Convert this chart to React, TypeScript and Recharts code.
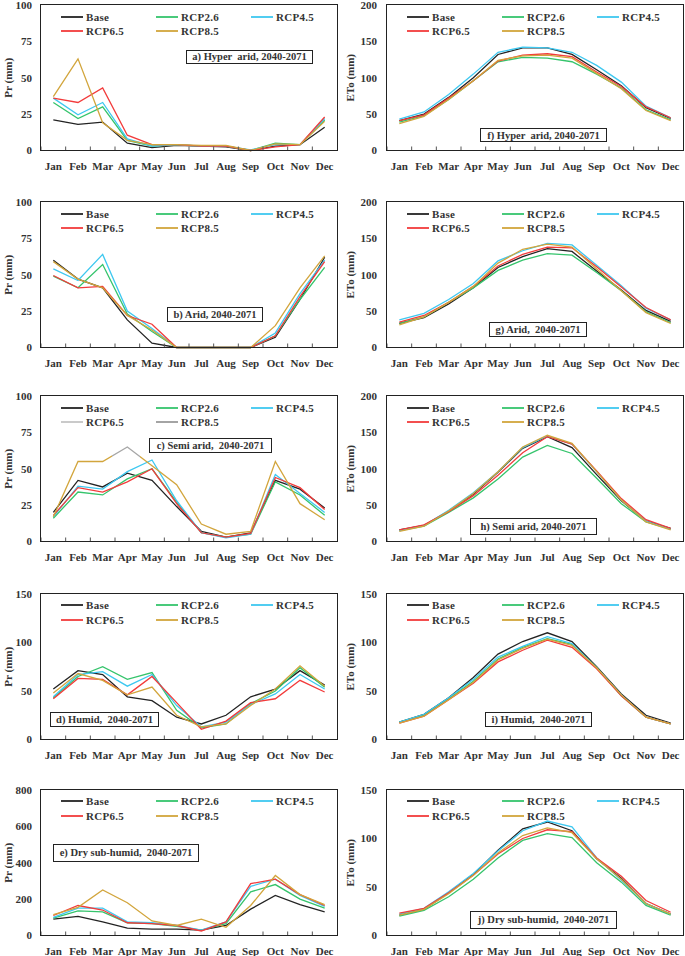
import React from "react";
import { Legend, Line, LineChart, XAxis, YAxis } from "recharts";

const months = ["Jan", "Feb", "Mar", "Apr", "May", "Jun", "Jul", "Aug", "Sep", "Oct", "Nov", "Dec"];
const seriesKeys = ["base", "rcp26", "rcp45", "rcp65", "rcp85"];
const seriesNames = ["Base", "RCP2.6", "RCP4.5", "RCP6.5", "RCP8.5"];
const seriesColors = ["#232323", "#35c46c", "#3ec8f0", "#f23b3b", "#d2a53c"];
const semiAridLegendColors = ["#232323", "#35c46c", "#3ec8f0", "#c4c4c4", "#9a9a9a"];

// rows: Base, RCP2.6, RCP4.5, RCP6.5, RCP8.5
const prHyperArid = [
  [21, 18, 19.5, 5, 2, 3.5, 3, 2.5, 0, 3, 4, 16],
  [33, 22, 30, 7, 3, 4, 3, 3, 0, 5, 4, 21],
  [36, 24.5, 33, 8, 3, 4, 3, 3, 0.5, 4, 4, 22],
  [36, 33, 43, 10.5, 4, 4, 3, 3, 0, 2.5, 4, 23],
  [37, 63, 19, 7, 4, 4, 3.5, 3.5, 0, 4.5, 4, 20],
];
const etoHyperArid = [
  [41, 50, 73, 100, 132, 141, 141, 132, 111, 89, 59, 44],
  [39, 48, 70, 96, 122, 128, 127, 122, 105, 86, 56, 42],
  [43, 53, 77, 105, 135, 142, 141, 135, 117, 94, 61, 45],
  [41, 49, 72, 96, 123, 131, 133, 129, 108, 88, 60, 45],
  [37, 47, 70, 96, 124, 130, 131, 127, 106, 85, 55, 41],
];
const prArid = [
  [60, 47, 41, 19, 3, 0, 0, 0, 0, 7, 33, 62],
  [49, 41, 57, 23, 11, 0, 0, 0, 0, 8, 33, 55],
  [54, 46, 64, 25, 13, 0, 0, 0, 0, 10, 37, 60],
  [49.5, 41, 42, 22, 16, 0, 0, 0, 0, 8, 35, 59],
  [59, 47, 41, 22, 12, 0, 0, 0, 0, 15, 41, 63],
];
const etoArid = [
  [33, 41, 60, 82, 110, 125, 136, 132, 105, 79, 51, 36],
  [33, 42, 62, 82, 106, 120, 129, 127, 103, 78, 49, 34],
  [38, 47, 66, 88, 119, 133, 143, 141, 113, 85, 54, 38],
  [35, 44, 62, 84, 112, 128, 138, 137, 111, 83, 55, 38],
  [31, 42, 62, 84, 116, 135, 142, 138, 108, 78, 48, 33],
];
const prSemiArid = [
  [20, 42, 37.5, 47, 42, 24, 7, 3, 6, 42, 36, 23],
  [16, 34, 32, 43, 50, 27, 6, 3, 5, 41, 32, 18],
  [17, 38, 36, 48, 56, 28, 6, 2.5, 5, 46, 33, 20],
  [18, 37, 34, 41, 50, 26, 6, 3, 5.5, 44, 37, 22],
  [17, 55, 55, 65, 52, 39, 12, 5, 7, 55, 26, 15],
];
const etoSemiArid = [
  [16, 22, 42, 65, 95, 128, 144, 129, 92, 56, 28, 18],
  [15, 21, 40, 60, 86, 116, 132, 121, 87, 52, 27, 17],
  [15, 22, 43, 67, 96, 129, 145, 134, 96, 57, 28, 17],
  [16, 23, 41, 63, 91, 122, 144, 134, 97, 59, 30, 18],
  [14, 21, 42, 66, 96, 130, 146, 135, 96, 57, 27, 16],
];
const prHumid = [
  [52, 71, 67, 44, 40, 23, 16, 25, 44, 52, 71, 56],
  [43, 65, 75, 62, 69, 30, 12, 16, 37, 50, 74, 54],
  [44, 67, 70, 55, 67, 35, 13, 18, 36, 47, 67, 52],
  [42, 63, 62, 46, 65, 38, 10.5, 19, 38, 42, 61, 49],
  [48, 68, 61, 46, 54, 25, 13, 16, 35, 52, 76, 55],
];
const etoHumid = [
  [18, 26, 43, 64, 88, 101, 110, 101, 75, 47, 25, 17],
  [18, 25, 42, 60, 83, 95, 104, 98, 74, 45, 23, 16],
  [18, 26, 43, 62, 85, 96, 106, 99, 74, 46, 23, 16],
  [17, 24, 41, 58, 80, 92, 102.5, 95, 73, 45, 23, 16],
  [17, 24, 41, 59, 82, 94, 103.5, 97, 74, 46, 23, 16],
];
const prDrySubHumid = [
  [90, 105, 75, 40, 35, 35, 30, 55, 145, 220, 170, 130],
  [95, 135, 130, 70, 65, 50, 30, 65, 240, 280, 200, 150],
  [100, 150, 150, 75, 70, 55, 30, 75, 270, 310, 220, 160],
  [110, 165, 140, 70, 65, 55, 25, 75, 285, 310, 225, 165],
  [115, 155, 250, 180, 80, 55, 90, 45, 165, 330, 225, 170],
];
const etoDrySubHumid = [
  [21, 27, 44, 63, 88, 110, 117, 108, 79, 59, 33, 22],
  [20, 26, 40, 58, 80, 98, 105, 101, 75, 55, 31, 21],
  [22, 28, 45, 64, 87, 108, 118, 112, 80, 57, 33, 22],
  [23, 28, 44, 62, 84, 100, 109, 107, 80, 61, 36, 24],
  [21, 27, 43, 62, 85, 103, 111, 106, 79, 58, 33, 22],
];

const ticks100 = [0, 25, 50, 75, 100];
const ticks150 = [0, 50, 100, 150];
const ticks200 = [0, 50, 100, 150, 200];
const ticks800 = [0, 200, 400, 600, 800];

const FONT = '"Liberation Serif", "Times New Roman", serif';
const rowTops = [5, 202, 396, 593.5, 789.5];
const PLOT_H = 145.5;
const MT = 5;
const XH = 30;

const toRows = (vals: number[][]) =>
  months.map((m, i) => {
    const row: any = { m };
    seriesKeys.forEach((k, s) => (row[k] = vals[s][i]));
    return row;
  });

const MonthTick = (props: any) => {
  const { x, payload, bottom, band } = props;
  return (
    <g>
      <line x1={x - band / 2} x2={x - band / 2} y1={bottom} y2={bottom - 4} stroke="#555" strokeWidth={1} />
      <text x={x} y={bottom + 19} textAnchor="middle" fontFamily={FONT} fontSize={11} fontWeight="bold" fill="#333">
        {payload.value}
      </text>
    </g>
  );
};

const legendContent = (colors: string[]) => () => (
  <div style={{ display: "grid", gridTemplateColumns: "95px 95px 95px", fontFamily: FONT, fontSize: 11, fontWeight: "bold", color: "#333" }}>
    {seriesNames.map((name, i) => (
      <div key={name} style={{ display: "flex", alignItems: "center", height: 14.5, letterSpacing: 0.3 }}>
        <svg width={25} height={6} style={{ display: "block" }}>
          <line x1={0} x2={22} y1={3} y2={3} stroke={colors[i]} strokeWidth={1.8} />
        </svg>
        <span>{name}</span>
      </div>
    ))}
  </div>
);

type PanelProps = {
  values: number[][];
  side: "left" | "right";
  row: number;
  yMax: number;
  ticks: number[];
  yLabel: string;
  title: string;
  box: { x: number; y: number; w: number; h: number };
  legendColors?: string[];
  gradient?: boolean;
};

function Panel({ values, side, row, yMax, ticks, yLabel, title, box, legendColors, gradient }: PanelProps) {
  const left = side === "left" ? 0 : 340;
  const width = side === "left" ? 340 : 345;
  const yw = side === "left" ? 41 : 47;
  const mr = side === "left" ? 3 : 2;
  const plotW = width - yw - mr;
  const band = plotW / 12;
  const bottom = MT + PLOT_H;
  const height = MT + PLOT_H + XH;
  const data = toRows(values);
  const gid = `g-${side}-${row}`;
  return (
    <div style={{ position: "absolute", left, top: rowTops[row] - MT, width, height }}>
      <LineChart width={width} height={height} data={data} margin={{ top: MT, right: mr, left: 0, bottom: 0 }}>
        {gradient && (
          <defs>
            <linearGradient id={gid} x1="0" y1="0" x2="1" y2="0">
              <stop offset="0" stopColor={seriesColors[4]} />
              <stop offset="0.218" stopColor={seriesColors[4]} />
              <stop offset="0.218" stopColor="#a6a6a6" />
              <stop offset="0.318" stopColor="#a6a6a6" />
              <stop offset="0.318" stopColor={seriesColors[4]} />
              <stop offset="1" stopColor={seriesColors[4]} />
            </linearGradient>
          </defs>
        )}
        <XAxis
          dataKey="m"
          height={XH}
          interval={0}
          padding={{ left: band / 2, right: band / 2 }}
          axisLine={false}
          tickLine={false}
          tick={(p: any) => <MonthTick {...p} bottom={bottom} band={band} />}
        />
        <YAxis
          width={yw}
          domain={[0, yMax]}
          ticks={ticks}
          interval={0}
          axisLine={false}
          tickLine={false}
          tickMargin={side === "left" ? 3 : 4}
          tick={{ fontFamily: FONT, fontSize: 11, fontWeight: "bold", fill: "#333" }}
          label={{
            value: yLabel,
            angle: -90,
            position: "insideLeft",
            offset: side === "left" ? 8 : 10.5,
            style: { textAnchor: "middle", fontFamily: FONT, fontSize: 11, fontWeight: "bold", fill: "#333" },
          }}
        />
        <Legend
          layout="vertical"
          align="center"
          verticalAlign="middle"
          content={legendContent(legendColors ?? seriesColors)}
          wrapperStyle={{ left: yw + 20, top: MT + 4.5, width: 290, height: 30 }}
        />
        {seriesKeys.map((k, i) => (
          <Line
            key={k}
            dataKey={k}
            name={seriesNames[i]}
            type="linear"
            stroke={gradient && i === 4 ? `url(#${gid})` : seriesColors[i]}
            strokeWidth={1.3}
            dot={false}
            isAnimationActive={false}
          />
        ))}
      </LineChart>
      <div
        style={{
          position: "absolute",
          left: yw - 0.75,
          top: MT - 0.75,
          width: plotW + 1.5,
          height: PLOT_H + 1.5,
          border: "1.5px solid #222",
          boxSizing: "border-box",
          pointerEvents: "none",
        }}
      />
      <div
        style={{
          position: "absolute",
          left: box.x,
          top: box.y,
          width: box.w,
          height: box.h,
          border: "1.5px solid #222",
          boxSizing: "border-box",
          background: "#fff",
          display: "flex",
          alignItems: "center",
          justifyContent: "center",
          fontFamily: FONT,
          fontSize: 10.5,
          fontWeight: "bold",
          color: "#333",
          whiteSpace: "pre",
        }}
      >
        {title}
      </div>
    </div>
  );
}

export default function App() {
  return (
    <div style={{ position: "absolute", left: 0, top: 0, width: 685, height: 956, background: "#fff" }}>
      <Panel values={prHyperArid} side="left" row={0} yMax={100} ticks={ticks100} yLabel="Pr (mm)" title="a) Hyper  arid, 2040-2071" box={{ x: 186, y: 50, w: 127, h: 13.5 }} />
      <Panel values={etoHyperArid} side="right" row={0} yMax={200} ticks={ticks200} yLabel="ETo (mm)" title="f) Hyper  arid, 2040-2071" box={{ x: 140, y: 128, w: 127, h: 14 }} />
      <Panel values={prArid} side="left" row={1} yMax={100} ticks={ticks100} yLabel="Pr (mm)" title="b) Arid, 2040-2071" box={{ x: 167, y: 110, w: 96, h: 14.5 }} />
      <Panel values={etoArid} side="right" row={1} yMax={200} ticks={ticks200} yLabel="ETo (mm)" title="g) Arid,  2040-2071" box={{ x: 149, y: 125, w: 98, h: 14.5 }} />
      <Panel values={prSemiArid} side="left" row={2} yMax={100} ticks={ticks100} yLabel="Pr (mm)" title="c) Semi arid,  2040-2071" box={{ x: 149, y: 47, w: 123, h: 14.5 }} legendColors={semiAridLegendColors} gradient />
      <Panel values={etoSemiArid} side="right" row={2} yMax={200} ticks={ticks200} yLabel="ETo (mm)" title="h) Semi arid, 2040-2071" box={{ x: 130, y: 127, w: 127, h: 16.5 }} />
      <Panel values={prHumid} side="left" row={3} yMax={150} ticks={ticks150} yLabel="Pr (mm)" title="d) Humid,  2040-2071" box={{ x: 50, y: 123.5, w: 109, h: 14.5 }} />
      <Panel values={etoHumid} side="right" row={3} yMax={150} ticks={ticks150} yLabel="ETo (mm)" title="i) Humid,  2040-2071" box={{ x: 145, y: 123.5, w: 107, h: 14.5 }} />
      <Panel values={prDrySubHumid} side="left" row={4} yMax={800} ticks={ticks800} yLabel="Pr (mm)" title="e) Dry sub-humid,  2040-2071" box={{ x: 53, y: 59.5, w: 146, h: 17.5 }} />
      <Panel values={etoDrySubHumid} side="right" row={4} yMax={150} ticks={ticks150} yLabel="ETo (mm)" title="j) Dry sub-humid,  2040-2071" box={{ x: 130, y: 126.5, w: 147, h: 17.5 }} />
    </div>
  );
}
